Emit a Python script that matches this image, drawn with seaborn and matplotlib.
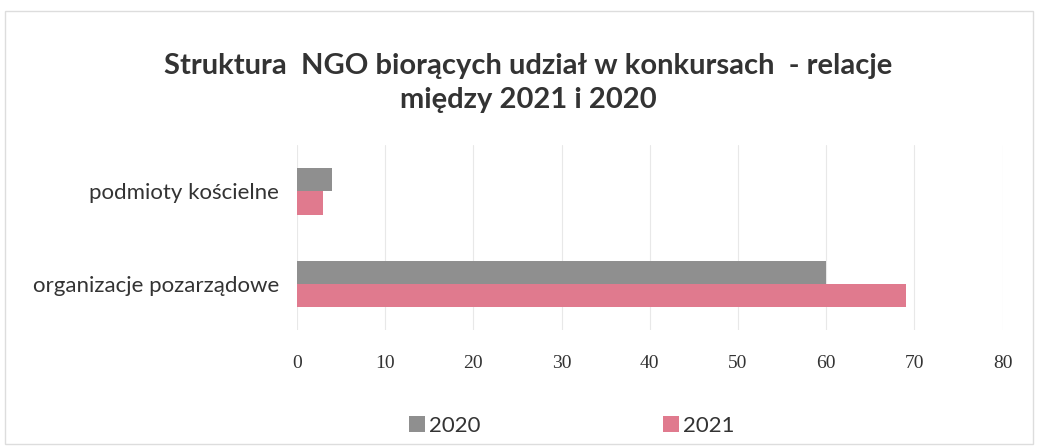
import numpy as np
import pandas as pd
import seaborn as sns
import matplotlib.pyplot as plt
from matplotlib.patches import Rectangle

categories = ["podmioty kościelne", "organizacje pozarządowe"]
values_2020 = [4, 60]
values_2021 = [3, 69]
years = ["2020", "2021"]
colors = {"2020": "#8f8f8f", "2021": "#e07a8e"}

df = pd.DataFrame({
    "kategoria": categories * 2,
    "rok": [years[0]] * len(categories) + [years[1]] * len(categories),
    "wartosc": values_2020 + values_2021,
})

sns.set_style("white")
plt.rcParams["font.family"] = ["Lato", "DejaVu Sans"]

fig = plt.figure(figsize=(10.38, 4.48), dpi=100)
ax = fig.add_axes([0.286, 0.263, 0.68, 0.413])

sns.barplot(data=df, x="wartosc", y="kategoria", hue="rok", hue_order=years,
            palette=colors, orient="h", width=0.5, ax=ax, saturation=1,
            linewidth=0)

ax.set_xlim(0, 80)
ax.set_ylim(1.5, -0.5)
ax.set_xticks(np.arange(0, 81, 10))
ax.set_xticklabels([str(v) for v in range(0, 81, 10)], fontsize=14,
                   family=["Liberation Serif", "DejaVu Serif"], color="#333333")
ax.tick_params(axis="x", pad=18, length=0)
ax.tick_params(axis="y", length=0, pad=13, labelsize=16, labelcolor="#333333")
ax.grid(axis="x", color="#e8e8e8", linewidth=0.8)
ax.set_axisbelow(True)
for s in ax.spines.values():
    s.set_visible(False)
ax.set_xlabel("")
ax.set_ylabel("")

handles, labels = ax.get_legend_handles_labels()
ax.get_legend().remove()
fig.legend(handles, labels, loc="center", bbox_to_anchor=(0.551, 0.05), ncol=2,
           frameon=False, fontsize=16, columnspacing=8.2, handlelength=0.7,
           handleheight=0.7, handletextpad=0.2, labelcolor="#333333")

fig.text(0.509, 0.815, "Struktura  NGO biorących udział w konkursach  - relacje\nmiędzy 2021 i 2020",
         ha="center", va="center", fontsize=21, fontweight="bold", color="#333333",
         linespacing=1.4)

fig.patches.append(Rectangle((0.005, 0.01), 0.99, 0.965, transform=fig.transFigure,
                             fill=False, edgecolor="#dddddd", linewidth=1))

fig.savefig("out.png", dpi=100)
